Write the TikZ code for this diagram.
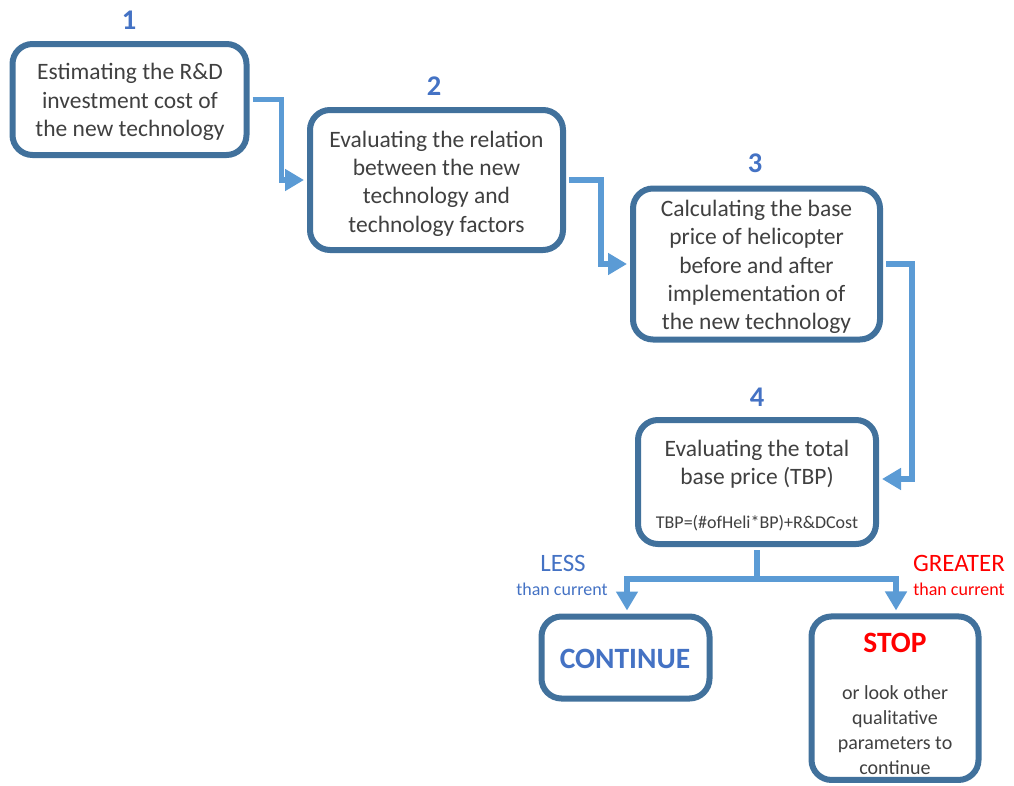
\documentclass[tikz,border=0pt]{standalone}
\usepackage{fontspec}
\setmainfont{Carlito}
\usetikzlibrary{arrows.meta}
\definecolor{boxline}{HTML}{41719C}
\definecolor{flow}{HTML}{5B9BD5}
\definecolor{stepnum}{HTML}{4472C4}
\definecolor{bodytext}{HTML}{404040}
\definecolor{alert}{HTML}{FF0000}

\begin{document}
\begin{tikzpicture}[x=1pt,y=-1pt,
  stepbox/.style={draw=boxline, line width=6pt, rounded corners=20pt, fill=white, inner sep=0pt},
  body/.style={text=bodytext, align=center, font=\fontsize{23.5}{28.3}\selectfont, inner sep=0pt},
  small/.style={text=bodytext, align=center, font=\fontsize{20}{25}\selectfont, inner sep=0pt},
  num/.style={text=stepnum, font=\fontsize{28.5}{30}\selectfont\bfseries, inner sep=0pt},
  flowline/.style={draw=flow, line width=5.5pt, line join=miter,
    -{Triangle[length=19pt,width=21pt]}, shorten >=3pt, shorten <=3pt},
  trunk/.style={draw=flow, line width=5.5pt, line join=miter, shorten <=3pt}
]
\useasboundingbox (0,0) rectangle (1014,785);

% process steps
\node[stepbox, minimum width=234pt, minimum height=111pt] (s1) at (129.5,99.5) {};
\node[body] (s1t) at (130,102)
  {Estimating the R\&D\\investment cost of\\the new technology};
\node[stepbox, minimum width=253pt, minimum height=140pt] (s2) at (436.5,180) {};
\node[body] (s2t) at (436.5,183.5)
  {Evaluating the relation\\between the new\\technology and\\technology factors};
\node[stepbox, minimum width=247pt, minimum height=151pt] (s3) at (756.5,264) {};
\node[body] (s3t) at (756.5,267)
  {Calculating the base\\price of helicopter\\before and after\\implementation of\\the new technology};
\node[stepbox, minimum width=238pt, minimum height=124pt] (s4) at (757,482) {};
\node[body] (s4t) at (757,464) {Evaluating the total\\base price (TBP)};
\node[text=bodytext, inner sep=0pt, font=\fontsize{18}{20}\selectfont] (s4f) at (757,523)
  {TBP=(\#ofHeli*BP)+R\&DCost};

% outcomes
\node[stepbox, minimum width=168pt, minimum height=82pt] (cont) at (625.5,657.5) {};
\node[text=stepnum, inner sep=0pt, font=\fontsize{29.5}{32}\selectfont\bfseries] (contt) at (625,658.5) {CONTINUE};
\node[stepbox, minimum width=167pt, minimum height=163.5pt] (stop) at (895,698.2) {};
\node[text=alert, inner sep=0pt, font=\fontsize{29.5}{32}\selectfont\bfseries] (stopt) at (895,643) {STOP};
\node[small] (stopb) at (895,730) {or look other\\qualitative\\parameters to\\continue};

% step numbers
\node[num] (n1) at (129,20) {1};
\node[num] (n2) at (434,86) {2};
\node[num] (n3) at (755,163) {3};
\node[num] (n4) at (757,397) {4};

% branch labels
\node[text=stepnum, inner sep=0pt, font=\fontsize{25}{27}\selectfont] (less) at (563,563) {LESS};
\node[text=stepnum, inner sep=0pt, font=\fontsize{18}{20}\selectfont] (lessc) at (562,589) {than current};
\node[text=alert, inner sep=0pt, font=\fontsize{25}{27}\selectfont] (greater) at (959,563) {GREATER};
\node[text=alert, inner sep=0pt, font=\fontsize{18}{20}\selectfont] (greaterc) at (959,589) {than current};

% connectors
\draw[flowline] (s1.east) -- ++(32,0) |- (s2.west);
\draw[flowline] (s2.east) -- ++(35,0) |- (s3.west);
\draw[flowline] (s3.east) -- ++(29,0) |- ([yshift=3pt]s4.east);
\coordinate (split) at (757,579);
\draw[trunk] (s4.south) -- (split);
\draw[flowline, shorten <=0pt] (split) -| ([xshift=1.5pt]cont.north);
\draw[flowline, shorten <=0pt] (split) -| ([xshift=1pt]stop.north);
\end{tikzpicture}
\end{document}
